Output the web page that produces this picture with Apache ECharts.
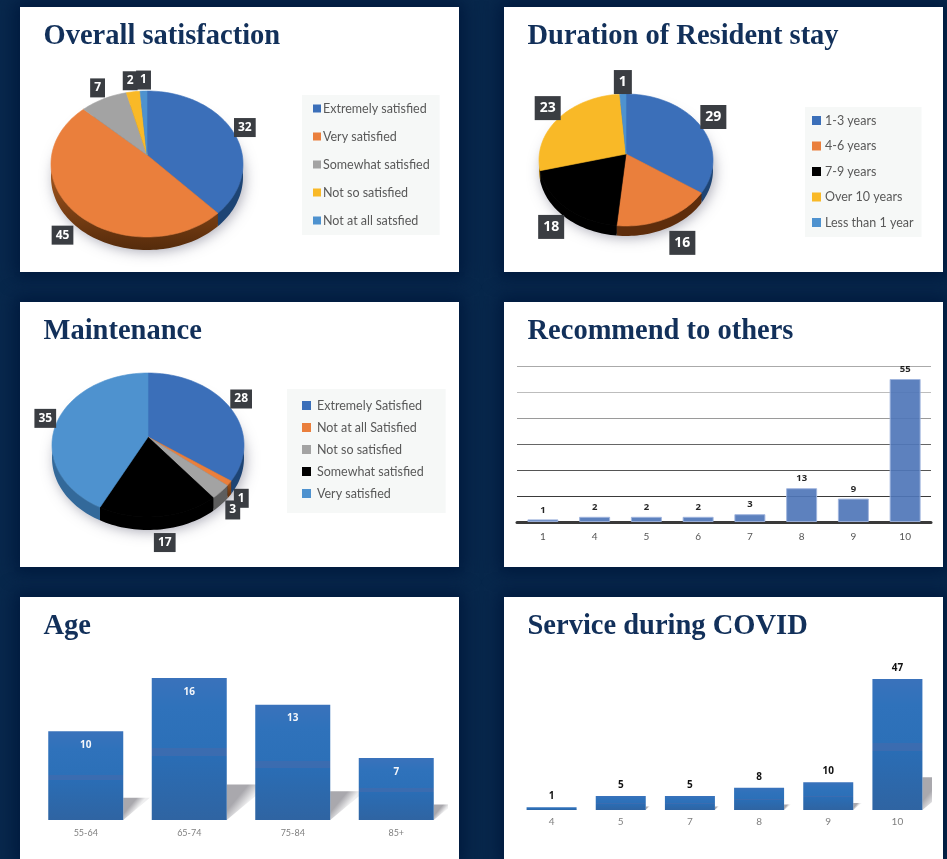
<!DOCTYPE html>
<html>
<head>
<meta charset="utf-8">
<title>Survey results</title>
<script src="https://cdn.jsdelivr.net/npm/echarts@6/dist/echarts.min.js"></script>
<style>
  html, body { margin: 0; padding: 0; width: 947px; height: 859px; overflow: hidden; background: #08284c; }
  .card { position: absolute; width: 439px; height: 265px; background: #fff; box-shadow: 0 0 16px 6px #001a3e; }
</style>
</head>
<body>
<div class="card" id="chartOverall" style="left:20px;top:7px"></div>
<div class="card" id="chartDuration" style="left:504px;top:7px"></div>
<div class="card" id="chartMaintenance" style="left:20px;top:302px"></div>
<div class="card" id="chartRecommend" style="left:504px;top:302px"></div>
<div class="card" id="chartAge" style="left:20px;top:597px;height:262px"></div>
<div class="card" id="chartService" style="left:504px;top:597px;height:262px"></div>
<script>
// chart values
let overallNames = ["Extremely satisfied", "Very satisfied", "Somewhat satisfied", "Not so satisfied", "Not at all satsfied"];
let overallValues = [32, 45, 7, 2, 1];

let durationNames = ["1-3 years", "4-6 years", "7-9 years", "Over 10 years", "Less than 1 year"];
let durationValues = [29, 16, 18, 23, 1];

let maintenanceNames = ["Extremely Satisfied", "Not at all Satisfied", "Not so satisfied", "Somewhat satisfied", "Very satisfied"];
let maintenanceValues = [28, 1, 3, 17, 35];

let recommendLabels = ["1", "4", "5", "6", "7", "8", "9", "10"];
let recommendValues = [1, 2, 2, 2, 3, 13, 9, 55];

let ageLabels = ["55-64", "65-74", "75-84", "85+"];
let ageValues = [10, 16, 13, 7];

let serviceLabels = ["4", "5", "7", "8", "9", "10"];
let serviceValues = [1, 5, 5, 8, 10, 47];

// colours
let BLUE = "#3b6fb9", ORANGE = "#ea7f3c", GRAY = "#a3a3a3", YELLOW = "#f9b927", SKY = "#4e92cf", BLACK = "#000";
let DARK_BLUE = "#1d4474", DARK_GRAY = "#5d5d5d", DARK_YELLOW = "#a97a10", DARK_SKY = "#33699a";
let BROWN = new echarts.graphic.LinearGradient(0, 0, 0, 1, [
  { offset: 0, color: "#a9591f" },
  { offset: 1, color: "#552b0b" }
]);
let TITLE_FONT = "Liberation Serif";
let TEXT_FONT = "Lato";

function titleOf(text) {
  return {
    text: text,
    left: 23.5,
    top: 15,
    padding: 0,
    textStyle: { fontFamily: TITLE_FONT, fontWeight: "bold", fontSize: 28.5, color: "#12305a" }
  };
}

function rimPoint(geo, deg, drop) {
  let r = deg * Math.PI / 180;
  return [geo.cx + geo.rx * Math.sin(r), geo.cy - geo.ry * Math.cos(r) + (drop || 0)];
}

function arcPoints(geo, from, to, drop) {
  let pts = [];
  let n = Math.max(2, Math.ceil((to - from) / 2));
  for (let i = 0; i <= n; i++) {
    pts.push(rimPoint(geo, from + (to - from) * i / n, drop));
  }
  return pts;
}

// pies here are tilted ellipses, the built in pie can only draw circles
function sliceSeries(names, values, colors, walls, geo, offsets, labelStyle) {
  let total = 0;
  values.forEach(function(v) { total += v; });
  let before = 0;
  return names.map(function(name, idx) {
    let start = before / total * 360;
    before += values[idx];
    let end = before / total * 360;
    return {
      type: "custom",
      name: name,
      coordinateSystem: "none",
      animation: false,
      silent: true,
      itemStyle: { color: colors[idx] },
      data: [values[idx]],
      renderItem: function(params, api) {
        let kids = [];
        if (idx == 0) {
          kids.push({
            type: "ellipse",
            z2: 0,
            shape: { cx: geo.cx, cy: geo.cy + geo.depth - 1, rx: geo.rx - 1, ry: geo.ry - 1 },
            style: { fill: "#333", shadowBlur: 14, shadowColor: "rgba(70,70,95,0.5)", shadowOffsetX: 2, shadowOffsetY: 3 }
          });
        }
        let wallFrom = Math.max(start, 90), wallTo = Math.min(end, 270);
        if (wallTo > wallFrom) {
          kids.push({
            type: "polygon",
            z2: 1,
            shape: { points: arcPoints(geo, wallFrom, wallTo, 0).concat(arcPoints(geo, wallFrom, wallTo, geo.depth).reverse()) },
            style: { fill: walls[idx] }
          });
        }
        kids.push({
          type: "polygon",
          z2: 2,
          shape: { points: [[geo.cx, geo.apexY]].concat(arcPoints(geo, start, end, 0)) },
          style: { fill: colors[idx], stroke: colors[idx], lineWidth: 0.6 }
        });
        let mid = rimPoint(geo, (start + end) / 2, 0);
        kids.push({
          type: "text",
          z2: 3 + idx,
          x: mid[0] + offsets[idx][0],
          y: mid[1] + offsets[idx][1],
          style: {
            text: String(api.value(0)),
            align: "center",
            verticalAlign: "middle",
            fontFamily: "Open Sans",
            fontWeight: "bold",
            fontSize: labelStyle.fontSize,
            fill: "#fff",
            backgroundColor: "#3a3d42",
            padding: labelStyle.padding,
            shadowColor: "transparent",
            boxShadowBlur: 5,
            boxShadowColor: "rgba(0,0,0,0.55)",
            boxShadowOffsetX: 2,
            boxShadowOffsetY: 2
          }
        });
        return { type: "group", children: kids };
      }
    };
  });
}

function legendOf(names, left, top, gap, iconSize, iconGap, padding) {
  return {
    data: names,
    orient: "vertical",
    left: left,
    top: top,
    icon: "rect",
    selectedMode: false,
    itemWidth: iconSize,
    itemHeight: iconSize,
    itemGap: gap,
    padding: padding,
    backgroundColor: "#f6f8f7",
    textStyle: { fontFamily: TEXT_FONT, fontSize: 12.5, color: "#595959", padding: [0, 0, 0, iconGap - 5] }
  };
}

function pieChart(id, title, names, values, colors, walls, geo, offsets, labelStyle, legend) {
  let chart = echarts.init(document.getElementById(id));
  chart.setOption({
    animation: false,
    title: titleOf(title),
    legend: legend,
    series: sliceSeries(names, values, colors, walls, geo, offsets, labelStyle)
  });
}

// bars throw a slanted shadow to the right, height and reach follow the bar
function shadowSeries(values, halfWidth) {
  return {
    type: "custom",
    coordinateSystem: "cartesian2d",
    clip: true,
    silent: true,
    z: 1,
    encode: { x: 0, y: 1 },
    data: values.map(function(v, i) { return [i, v]; }),
    renderItem: function(params, api) {
      let base = api.coord([api.value(0), 0]);
      let top = api.coord([api.value(0), api.value(1)]);
      let h = base[1] - top[1];
      let x = base[0] + halfWidth;
      return {
        type: "polygon",
        shape: { points: [[x, base[1]], [x, base[1] - h * 0.25], [x + h * 0.3, base[1] - h * 0.25]] },
        style: {
          fill: new echarts.graphic.LinearGradient(0, 0, 1, 1, [
            { offset: 0, color: "#a9a8ad" },
            { offset: 0.3, color: "#a9a8ad" },
            { offset: 0.5, color: "#eeeeef" }
          ])
        }
      };
    }
  };
}

function stripedBlue() {
  return new echarts.graphic.LinearGradient(0, 0, 0, 1, [
    { offset: 0, color: "#3a72bb" },
    { offset: 0.2, color: "#2f72bb" },
    { offset: 0.49, color: "#2c70b8" },
    { offset: 0.49, color: "#3b6cb0" },
    { offset: 0.55, color: "#3b6cb0" },
    { offset: 0.55, color: "#2a6db5" },
    { offset: 1, color: "#2f64a2" }
  ]);
}

pieChart("chartOverall", "Overall satisfaction", overallNames, overallValues,
  [BLUE, ORANGE, GRAY, YELLOW, SKY],
  [DARK_BLUE, BROWN, DARK_GRAY, DARK_YELLOW, DARK_SKY],
  { cx: 127, cy: 157, rx: 96, ry: 73, apexY: 148, depth: 13 },
  [[10, -7], [-16, 20], [-6, -11], [-3, -11], [0, -11]],
  { fontSize: 12, padding: [4, 4, 3, 4] },
  legendOf(overallNames, 282, 88, 15, 8, 2, [7, 10, 8, 11]));

pieChart("chartDuration", "Duration of Resident stay", durationNames, durationValues,
  [BLUE, ORANGE, BLACK, YELLOW, SKY],
  [DARK_BLUE, "#5e2d0c", BLACK, DARK_YELLOW, DARK_SKY],
  { cx: 122, cy: 153, rx: 87, ry: 66, apexY: 147, depth: 10 },
  [[12, -10], [17, 24], [-15, 19], [-10, -11], [0, -12]],
  { fontSize: 14, padding: [5, 5, 5, 5] },
  legendOf(durationNames, 301, 100, 12.5, 9, 4, [7, 8, 8, 7]));

pieChart("chartMaintenance", "Maintenance", maintenanceNames, maintenanceValues,
  [BLUE, ORANGE, GRAY, BLACK, SKY],
  [DARK_BLUE, BROWN, DARK_GRAY, BLACK, DARK_SKY],
  { cx: 128, cy: 143, rx: 96, ry: 72, apexY: 135, depth: 13 },
  [[10, -10], [12, 15], [12, 18], [6, 26], [-10, -8]],
  { fontSize: 12, padding: [4, 4, 3, 4] },
  legendOf(maintenanceNames, 267, 87, 9, 9, 6, [10, 22, 13, 15]));

let recommendChart = echarts.init(document.getElementById("chartRecommend"));
recommendChart.setOption({
  animation: false,
  title: titleOf("Recommend to others"),
  grid: { left: 13, top: 64, width: 414, height: 156 },
  xAxis: {
    type: "category",
    data: recommendLabels,
    axisTick: { show: false },
    axisLine: { lineStyle: { color: "#3a3a3a", width: 3 } },
    axisLabel: { color: "#555", fontFamily: TEXT_FONT, fontSize: 10, margin: 10 }
  },
  yAxis: {
    type: "value",
    min: 0,
    max: 60,
    interval: 10,
    axisLabel: { show: false },
    axisLine: { show: false },
    axisTick: { show: false },
    splitLine: { lineStyle: { width: 1, color: ["#3a3a3a", "#3a3a3a", "#555", "#666", "#9a9a9a", "#bdbdbd", "#aaa"] } }
  },
  series: [{
    type: "bar",
    data: recommendValues,
    barWidth: 31,
    itemStyle: { color: "#4f76b9", opacity: 0.92, borderColor: "#9fb4dd", borderWidth: 1 },
    label: { show: true, position: "top", distance: 4.5, color: "#111", fontFamily: "Open Sans", fontWeight: "bold", fontSize: 9.5 }
  }]
});

let ageChart = echarts.init(document.getElementById("chartAge"));
ageChart.setOption({
  animation: false,
  title: titleOf("Age"),
  grid: { left: 14, top: 81, width: 414, height: 142 },
  xAxis: {
    type: "category",
    data: ageLabels,
    axisTick: { show: false },
    axisLine: { show: false },
    axisLabel: { color: "#7f7f7f", fontFamily: TEXT_FONT, fontSize: 9, margin: 9 }
  },
  yAxis: { type: "value", min: 0, max: 16, show: false },
  series: [
    shadowSeries(ageValues, 37.5),
    {
      type: "bar",
      data: ageValues,
      barWidth: 75,
      z: 2,
      itemStyle: { color: stripedBlue() },
      label: { show: true, position: "insideTop", distance: 9, color: "#f4f6fa", fontFamily: "Open Sans", fontWeight: "bold", fontSize: 10 }
    }
  ]
});

let serviceChart = echarts.init(document.getElementById("chartService"));
serviceChart.setOption({
  animation: false,
  title: titleOf("Service during COVID"),
  grid: { left: 13, top: 82, width: 415, height: 131 },
  xAxis: {
    type: "category",
    data: serviceLabels,
    axisTick: { show: false },
    axisLine: { show: false },
    axisLabel: { color: "#7f7f7f", fontFamily: TEXT_FONT, fontSize: 10, margin: 7 }
  },
  yAxis: { type: "value", min: 0, max: 47, show: false },
  series: [
    shadowSeries(serviceValues, 25),
    {
      type: "bar",
      data: serviceValues,
      barWidth: 50,
      z: 2,
      itemStyle: { color: stripedBlue() },
      label: { show: true, position: "top", distance: 6, color: "#111", fontFamily: "Open Sans", fontWeight: "bold", fontSize: 10 }
    }
  ]
});
</script>
</body>
</html>
